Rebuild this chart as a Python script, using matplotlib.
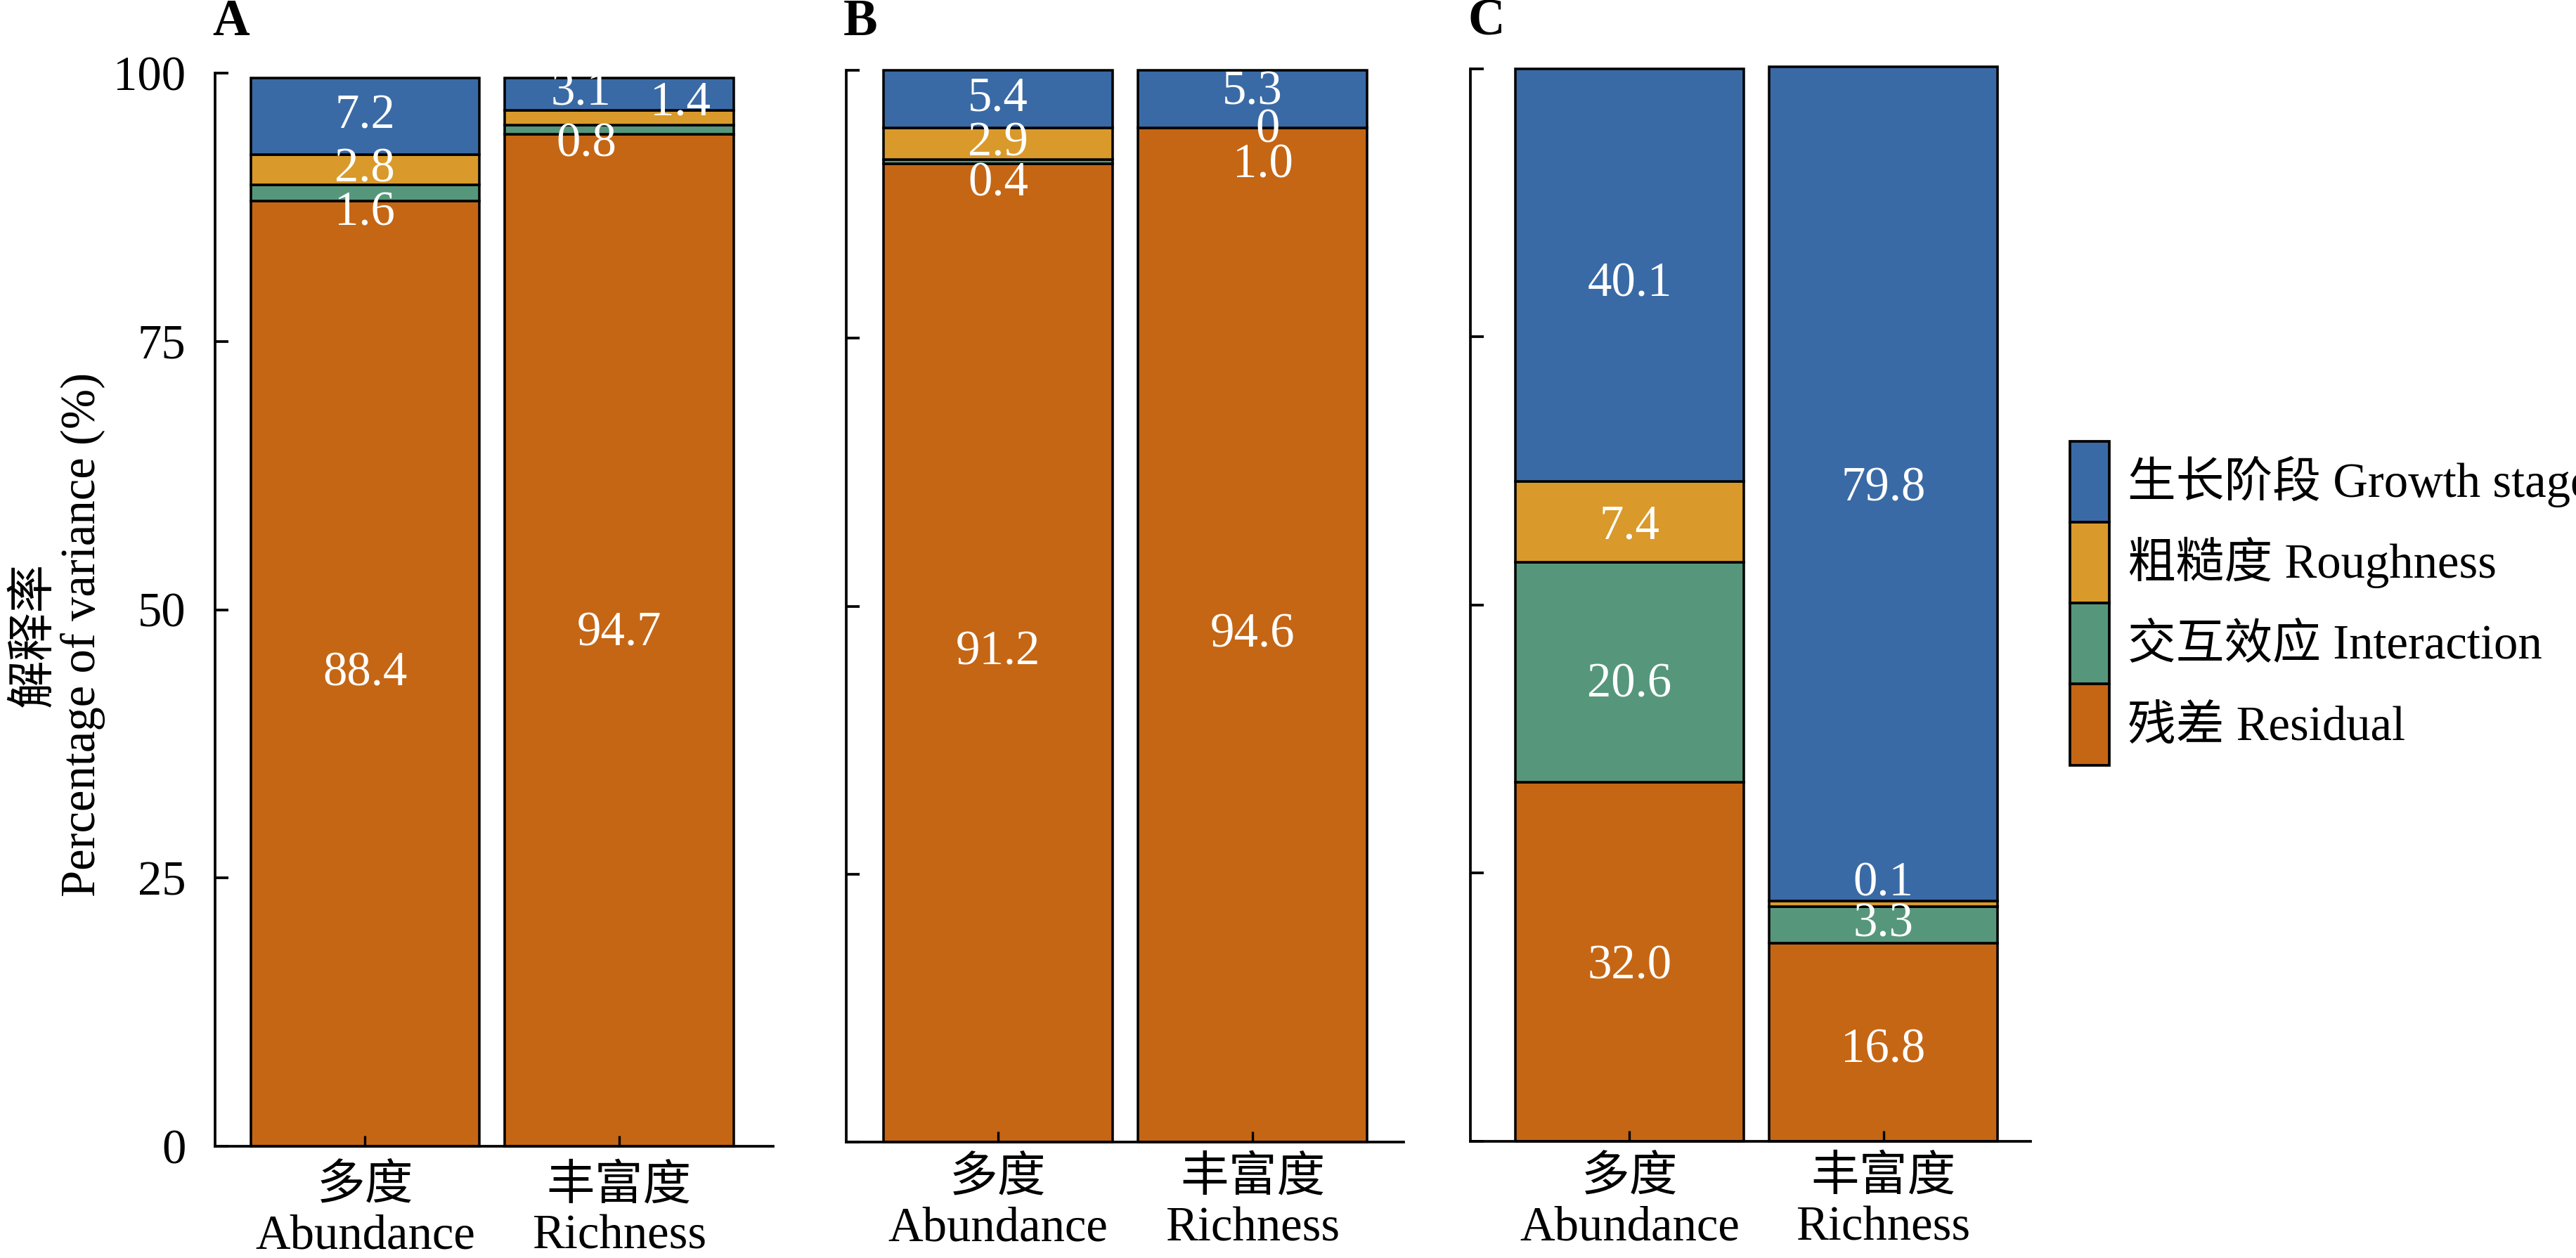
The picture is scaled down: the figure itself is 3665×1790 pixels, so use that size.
import numpy as np
import matplotlib
matplotlib.use('Agg')
import matplotlib.pyplot as plt
from matplotlib.patches import Patch

plt.rcParams['font.family'] = ['Liberation Serif', 'Noto Sans CJK SC']
plt.rcParams['font.size'] = 16.5
plt.rcParams['axes.unicode_minus'] = False

# ── data ────────────────────────────────────────────────
panels = ['A', 'B', 'C']
groups = ['多度\nAbundance', '丰富度\nRichness']
comp_names = ['残差 Residual', '交互效应 Interaction',
              '粗糙度 Roughness', '生长阶段 Growth stage']   # bottom -> top

# bar heights as drawn (%), per panel: [abundance, richness]
residual    = [[88.05, 94.3], [91.3, 94.6], [33.5, 18.5]]
interaction = [[1.55, 0.85],  [0.4, 0.0],   [20.5, 3.4]]
roughness   = [[2.8, 1.4],    [2.9, 0.0],   [7.5, 0.5]]
growth      = [[7.15, 3.0],   [5.4, 5.4],   [38.5, 77.8]]

# numbers printed on the bars
lab_residual    = [['88.4', '94.7'], ['91.2', '94.6'], ['32.0', '16.8']]
lab_interaction = [['1.6', '0.8'],   ['0.4', '1.0'],   ['20.6', '3.3']]
lab_roughness   = [['2.8', '1.4'],   ['2.9', '0'],     ['7.4', '0.1']]
lab_growth      = [['7.2', '3.1'],   ['5.4', '5.3'],   ['40.1', '79.8']]

# ── style ───────────────────────────────────────────────
COLORS = ['#C56614', '#56977C', '#D99A2B', '#3A6AA5']
W, H = 3665, 1790
DPI = 300

# axes boxes in pixels: left, right, top(100), bottom(0)
AX_PX = [(306, 1100, 104, 1631),
         (1204, 1997, 100, 1625),
         (2092, 2889, 97.6, 1624)]
XLIMS = [(-0.59, 1.606), (-0.597, 1.594), (-0.627, 1.58)]
XPAD = [6.3, 5, 5]

# label nudges (dx, dy) for crowded segments: key = (panel, bar, component)
NUDGE = {
    (0, 0, 1): (0, -1.9),
    (0, 1, 3): (-0.15, 0.05),
    (0, 1, 2): (0.24, 1.35),
    (0, 1, 1): (-0.13, -1.4),
    (0, 1, 0): (0, 0.6),
    (1, 0, 1): (0, -2.1),
    (1, 1, 3): (0, 0.6),
    (1, 1, 2): (0.06, -0.2),
    (1, 1, 1): (0.04, -3.5),
    (2, 0, 3): (0, -0.9),
    (2, 0, 2): (0, -0.5),
    (2, 0, 1): (0, -1.2),
    (2, 0, 0): (0, -0.5),
    (2, 1, 3): (0, -0.5),
    (2, 1, 2): (0, 1.85),
    (2, 1, 0): (0, -0.8),
}

fig = plt.figure(figsize=(W / DPI, H / DPI), dpi=DPI)

x = np.arange(len(groups))
for p in range(3):
    l, r, t, b = AX_PX[p]
    ax = fig.add_axes([l / W, 1 - b / H, (r - l) / W, (b - t) / H])

    stack = [residual[p], interaction[p], roughness[p], growth[p]]
    labels = [lab_residual[p], lab_interaction[p], lab_roughness[p], lab_growth[p]]
    bottom = np.zeros(len(groups))
    for c in range(4):
        vals = np.array(stack[c])
        ax.bar(x, vals, width=0.9, bottom=bottom, color=COLORS[c],
               edgecolor='black', linewidth=0.85, clip_on=False)
        for i in range(len(groups)):
            dx, dy = NUDGE.get((p, i, c), (0, 0))
            ax.text(x[i] + dx, bottom[i] + vals[i] / 2 + dy, labels[c][i],
                    ha='center', va='center', color='white', fontsize=16.5)
        bottom += vals

    ax.set_ylim(0, 100)
    ax.set_xlim(*XLIMS[p])
    ax.set_yticks([0, 25, 50, 75, 100])
    ax.set_xticks(x)
    ax.set_xticklabels(groups, linespacing=1.15)
    for s in ['top', 'right']:
        ax.spines[s].set_visible(False)
    for s in ['left', 'bottom']:
        ax.spines[s].set_linewidth(0.9)
    ax.tick_params(axis='y', direction='in', length=4.6, width=0.9, pad=10)
    ax.tick_params(axis='x', direction='in', length=3.6, width=0.8, pad=XPAD[p])
    if p == 0:
        ax.set_ylabel('解释率\nPercentage of variance (%)', linespacing=1.1)
        ax.yaxis.set_label_coords(-0.196, 0.477)
    else:
        ax.tick_params(axis='y', labelleft=False)

    fig.text((l - 4) / W, 1 - 50 / H, panels[p], fontsize=17.5,
             fontweight='bold', ha='left', va='baseline')

# ── legend ──────────────────────────────────────────────
handles = [Patch(facecolor=COLORS[c], edgecolor='black', linewidth=0.9,
                 label=comp_names[c]) for c in range(3, -1, -1)]
fig.legend(handles=handles, loc='upper left',
           bbox_to_anchor=(2945 / W, 1 - 628 / H),
           frameon=False, borderpad=0, borderaxespad=0,
           handlelength=0.815, handleheight=2.2, labelspacing=0,
           handletextpad=0.38, fontsize=16.5)

fig.savefig('out.png', dpi=DPI)
